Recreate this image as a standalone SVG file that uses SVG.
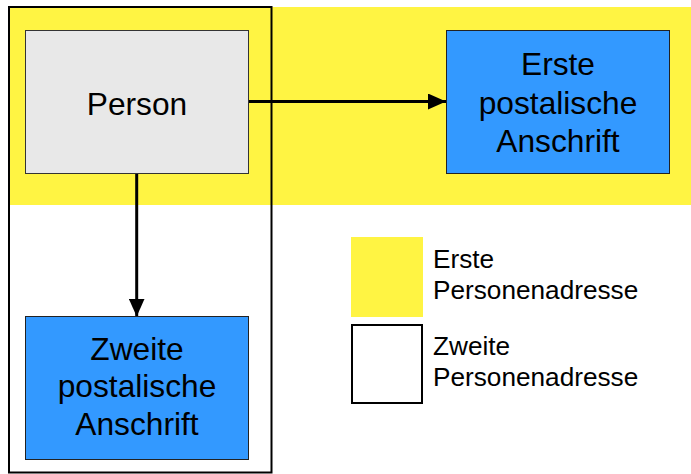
<svg xmlns="http://www.w3.org/2000/svg" width="691" height="474" viewBox="0 0 691 474">
<style>
  text { font-family: "Liberation Sans", Arial, sans-serif; fill: #000; }
  .big { font-size: 31.7px; text-anchor: middle; }
  .leg { font-size: 26.2px; }
  .gray { fill: #e8e8e8; stroke: #333; stroke-width: 1; }
  .blue { fill: #3399ff; stroke: #222; stroke-width: 1; }
  .conn { stroke: #000; stroke-width: 3; fill: none; }
</style>
<defs>
  <marker id="arr" viewBox="0 0 18 16" refX="18" refY="8" markerWidth="18" markerHeight="16" markerUnits="userSpaceOnUse" orient="auto">
    <path d="M0,0 L18,8 L0,16 Z" fill="#000"/>
  </marker>
</defs>
<rect width="691" height="474" fill="#fff"/>
<g id="area-erste">
  <rect x="9" y="7" width="682" height="198" fill="#fff443"/>
</g>
<g id="area-zweite">
  <rect x="9" y="7" width="262.5" height="465.5" fill="none" stroke="#000" stroke-width="2"/>
</g>
<g id="connectors">
  <line class="conn" x1="248" y1="101.5" x2="446" y2="101.5" marker-end="url(#arr)"/>
  <line class="conn" x1="136.7" y1="173" x2="136.7" y2="316.5" marker-end="url(#arr)"/>
</g>
<g id="person">
  <rect class="gray" x="25.5" y="30.5" width="223" height="143"/>
  <text class="big" x="137" y="115">Person</text>
</g>
<g id="erste-anschrift">
  <rect class="blue" x="446.5" y="30.5" width="223" height="143"/>
  <text class="big" x="558" y="75">Erste</text>
  <text class="big" x="558" y="113.5">postalische</text>
  <text class="big" x="558" y="152">Anschrift</text>
</g>
<g id="zweite-anschrift">
  <rect class="blue" x="25.5" y="316.5" width="223" height="143"/>
  <text class="big" x="137" y="359.5">Zweite</text>
  <text class="big" x="137" y="397">postalische</text>
  <text class="big" x="137" y="435">Anschrift</text>
</g>
<g id="legend-erste">
  <rect x="351" y="237" width="72" height="80" fill="#fff443"/>
  <text class="leg" x="433" y="268">Erste</text>
  <text class="leg" x="433" y="298.5">Personenadresse</text>
</g>
<g id="legend-zweite">
  <rect x="352" y="325" width="70" height="78" fill="#fff" stroke="#000" stroke-width="2"/>
  <text class="leg" x="433" y="355">Zweite</text>
  <text class="leg" x="433" y="386">Personenadresse</text>
</g>
</svg>
